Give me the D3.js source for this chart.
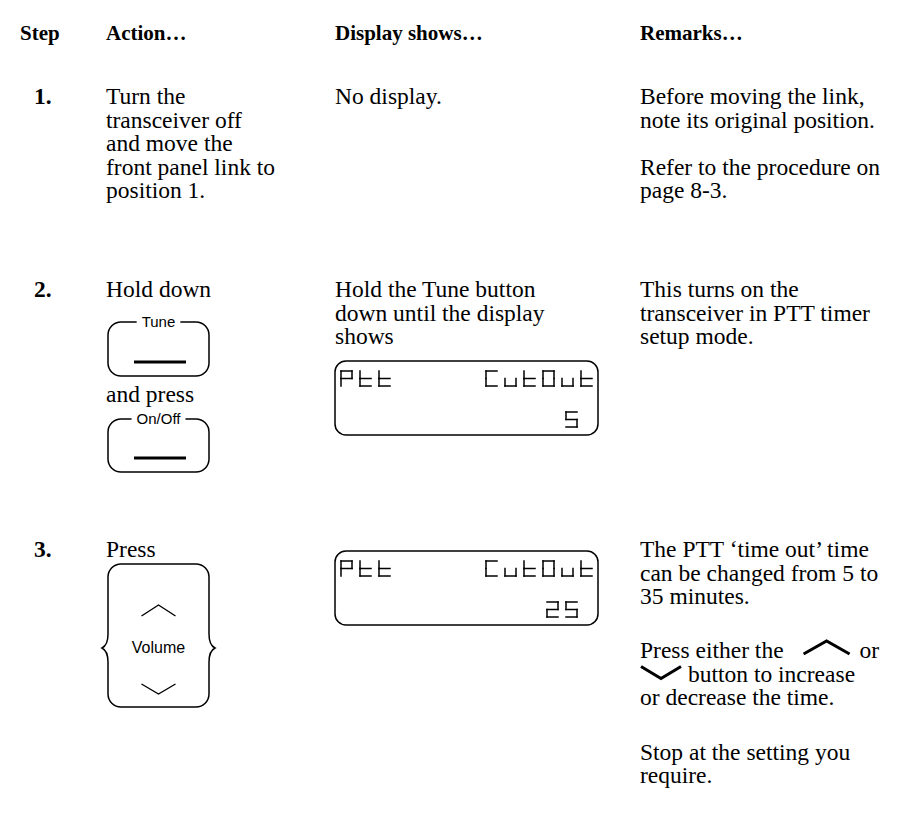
<!DOCTYPE html>
<html><head><meta charset="utf-8">
<script src="https://cdn.jsdelivr.net/npm/d3@7"></script>
<style>body{margin:0;background:#fff}svg{display:block}</style>
</head><body><svg id="c" width="912" height="832"></svg>
<script>
// ---------- content ----------
const headers = ["Step", "Action…", "Display shows…", "Remarks…"];
const steps = ["1.", "2.", "3."];
const action1 = ["Turn the", "transceiver off", "and move the", "front panel link to", "position 1."];
const action2a = ["Hold down"];
const action2b = ["and press"];
const action3 = ["Press"];
const display1 = ["No display."];
const display2 = ["Hold the Tune button", "down until the display", "shows"];
const remarks1 = [["Before moving the link,", "note its original position."], ["Refer to the procedure on", "page 8-3."]];
const remarks2 = [["This turns on the", "transceiver in PTT timer", "setup mode."]];
const remarks3a = ["The PTT ‘time out’ time", "can be changed from 5 to", "35 minutes."];
const remarks3b = [["Press either the", "UP", "or"], ["DOWN", "button to increase"], ["or decrease the time."]];
const remarks3c = ["Stop at the setting you", "require."];
const lcdWordLeft = "Ptt";
const lcdWordRight = "CutOut";
const lcdValues = ["5", "25"];
const buttonLabels = ["Tune", "On/Off", "Volume"];

// ---------- layout ----------
const svg = d3.select("#c");
const serif = "'Liberation Serif','Times New Roman',serif";
const sans = "'Liberation Sans',Arial,sans-serif";
const FS = 23.5, LH = 23.5;
const col = d3.scaleOrdinal().domain(["step", "action", "display", "remarks"]).range([34, 106, 335, 640]);
const headX = d3.scaleOrdinal().domain(headers).range([20, 106, 335, 640]);
const rowY = d3.scaleOrdinal().domain(steps).range([104, 297, 557]);

svg.append("g").selectAll("text").data(headers).join("text")
  .attr("x", d => headX(d)).attr("y", 40)
  .attr("font-family", serif).attr("font-weight", "bold").attr("font-size", 21)
  .text(d => d);

svg.append("g").selectAll("text").data(steps).join("text")
  .attr("x", col("step")).attr("y", d => rowY(d))
  .attr("font-family", serif).attr("font-weight", "bold").attr("font-size", FS)
  .text(d => d);

function lines(x, y0, arr) {
  svg.append("g").selectAll("text").data(arr).join("text")
    .attr("x", x).attr("y", (d, i) => y0 + i * LH)
    .attr("font-family", serif).attr("font-size", FS).attr("fill", "#000")
    .text(d => d);
}
lines(col("action"), rowY("1."), action1);
lines(col("display"), rowY("1."), display1);
lines(col("remarks"), rowY("1."), remarks1[0]);
lines(col("remarks"), rowY("1.") + 3 * LH, remarks1[1]);

lines(col("action"), rowY("2."), action2a);
lines(col("action"), 402, action2b);
lines(col("display"), rowY("2."), display2);
lines(col("remarks"), rowY("2."), remarks2[0]);

lines(col("action"), rowY("3."), action3);
lines(col("remarks"), rowY("3."), remarks3a);

// paragraph with chevrons
const p2y = rowY("3.") + 101;
(function () {
  const x0 = col("remarks");
  const t1 = svg.append("text").attr("x", x0).attr("y", p2y).attr("font-family", serif).attr("font-size", FS).text(remarks3b[0][0]);
  const w1 = t1.node().getComputedTextLength();
  const cx = x0 + w1 + 20;
  svg.append("path").attr("d", d3.line()([[cx, p2y - 4], [cx + 23, p2y - 17], [cx + 46, p2y - 4]]))
    .attr("fill", "none").attr("stroke", "#000").attr("stroke-width", 3);
  svg.append("text").attr("x", cx + 56).attr("y", p2y).attr("font-family", serif).attr("font-size", FS).text(remarks3b[0][2]);
  const y2 = p2y + LH;
  svg.append("path").attr("d", d3.line()([[x0 + 1, y2 - 15], [x0 + 21, y2 - 3], [x0 + 41, y2 - 15]]))
    .attr("fill", "none").attr("stroke", "#000").attr("stroke-width", 3);
  svg.append("text").attr("x", x0 + 48).attr("y", y2).attr("font-family", serif).attr("font-size", FS).text(remarks3b[1][1]);
  svg.append("text").attr("x", x0).attr("y", y2 + LH).attr("font-family", serif).attr("font-size", FS).text(remarks3b[2][0]);
})();
lines(col("remarks"), p2y + 3 * LH + 31, remarks3c);

// ---------- buttons ----------
function labelButton(x0, x1, y0, y1, label) {
  const r = 13;
  const g = svg.append("g");
  const lt = g.append("text").attr("x", (x0 + x1) / 2).attr("y", y0 + 5).attr("text-anchor", "middle")
    .attr("font-family", sans).attr("font-size", 15).text(label);
  const w = lt.node().getComputedTextLength();
  const gl = (x0 + x1) / 2 - w / 2 - 5, gr = (x0 + x1) / 2 + w / 2 + 5;
  const p = d3.path();
  p.moveTo(gl, y0); p.lineTo(x0 + r, y0); p.arcTo(x0, y0, x0, y0 + r, r);
  p.lineTo(x0, y1 - r); p.arcTo(x0, y1, x0 + r, y1, r);
  p.lineTo(x1 - r, y1); p.arcTo(x1, y1, x1, y1 - r, r);
  p.lineTo(x1, y0 + r); p.arcTo(x1, y0, x1 - r, y0, r); p.lineTo(gr, y0);
  g.append("path").attr("d", p.toString()).attr("fill", "none").attr("stroke", "#000").attr("stroke-width", 1.5);
  g.append("line").attr("x1", x0 + 26).attr("x2", x1 - 23).attr("y1", y1 - 14).attr("y2", y1 - 14)
    .attr("stroke", "#000").attr("stroke-width", 3);
}
labelButton(108, 209, 322, 376, buttonLabels[0]);
labelButton(108, 209, 419, 472, buttonLabels[1]);

(function volume(x0, x1, y0, ym, y1) {
  const r = 13, k = 6;
  const p = d3.path();
  p.moveTo(x0 + r, y0); p.lineTo(x1 - r, y0); p.arcTo(x1, y0, x1, y0 + r, r);
  p.lineTo(x1, ym - 14); p.quadraticCurveTo(x1, ym - 3, x1 + k, ym);
  p.quadraticCurveTo(x1, ym + 3, x1, ym + 14);
  p.lineTo(x1, y1 - r); p.arcTo(x1, y1, x1 - r, y1, r);
  p.lineTo(x0 + r, y1); p.arcTo(x0, y1, x0, y1 - r, r);
  p.lineTo(x0, ym + 14); p.quadraticCurveTo(x0, ym + 3, x0 - k, ym);
  p.quadraticCurveTo(x0, ym - 3, x0, ym - 14);
  p.lineTo(x0, y0 + r); p.arcTo(x0, y0, x0 + r, y0, r); p.closePath();
  svg.append("path").attr("d", p.toString()).attr("fill", "none").attr("stroke", "#000").attr("stroke-width", 1.5);
  const cx = (x0 + x1) / 2;
  svg.append("text").attr("x", cx).attr("y", ym + 5).attr("text-anchor", "middle")
    .attr("font-family", sans).attr("font-size", 16).text(buttonLabels[2]);
  svg.append("path").attr("d", d3.line()([[cx - 17, ym - 32], [cx, ym - 43], [cx + 17, ym - 32]]))
    .attr("fill", "none").attr("stroke", "#000").attr("stroke-width", 1.4);
  svg.append("path").attr("d", d3.line()([[cx - 17, ym + 36], [cx, ym + 46], [cx + 17, ym + 36]]))
    .attr("fill", "none").attr("stroke", "#000").attr("stroke-width", 1.4);
})(108, 209, 564, 648, 707);

// ---------- LCDs ----------
const SEG = { P: "abefg", t: "defg", C: "adef", u: "cde", O: "abcdef", "2": "abdeg", "5": "acdfg" };
function segChar(g, ch, x, y, w, h) {
  const m = h / 2;
  const S = { a: [[0, 0], [w, 0]], b: [[w, 0], [w, m]], c: [[w, m], [w, h]], d: [[0, h], [w, h]], e: [[0, m], [0, h]], f: [[0, 0], [0, m]], g: [[0, m], [w, m]] };
  (SEG[ch] || "").split("").forEach(s => {
    g.append("path").attr("d", d3.line()(S[s].map(p => [x + p[0], y + p[1]])))
      .attr("fill", "none").attr("stroke", "#000").attr("stroke-width", 1.5).attr("stroke-linecap", "square");
  });
}
function lcd(x0, x1, y0, y1, value) {
  const g = svg.append("g");
  g.append("rect").attr("x", x0).attr("y", y0).attr("width", x1 - x0).attr("height", y1 - y0)
    .attr("rx", 11).attr("fill", "none").attr("stroke", "#000").attr("stroke-width", 1.5);
  const pitch = 19, w = 11, h = 15;
  lcdWordLeft.split("").forEach((c, i) => segChar(g, c, x0 + 6 + i * pitch, y0 + 10, w, h));
  lcdWordRight.split("").forEach((c, i) => segChar(g, c, x0 + 151 + i * pitch, y0 + 10, w, h));
  const lastX = x0 + 231;
  value.split("").reverse().forEach((c, i) => segChar(g, c, lastX - i * pitch, y0 + 51, w, h));
}
lcd(335, 598, 361, 435, lcdValues[0]);
lcd(335, 598, 551, 625, lcdValues[1]);
</script></body></html>
